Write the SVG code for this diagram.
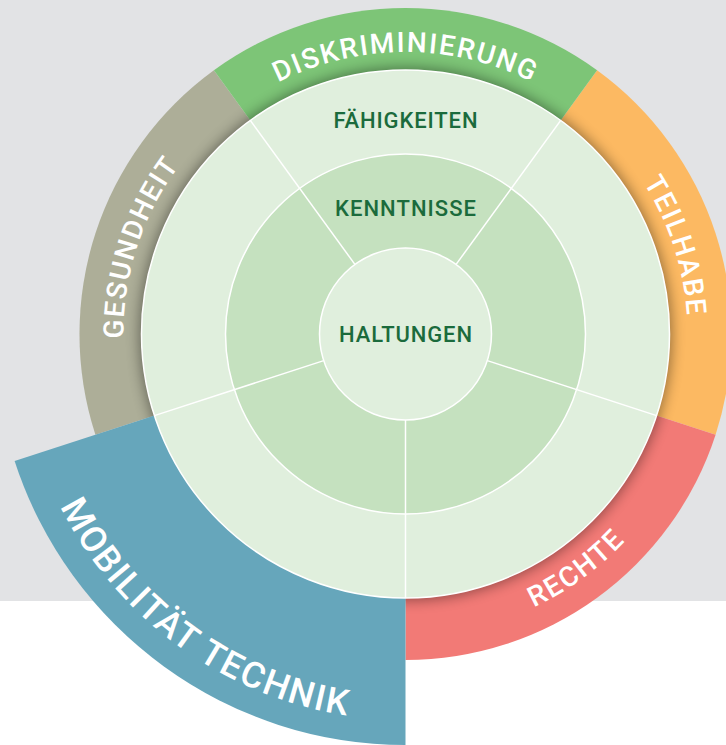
<svg xmlns="http://www.w3.org/2000/svg" width="726" height="745" viewBox="0 0 726 745">
<style>
.ring{font-family:Roboto,"Liberation Sans",sans-serif;font-size:28px;font-weight:500;fill:#fff;letter-spacing:1.8px}
.big{font-family:Roboto,"Liberation Sans",sans-serif;font-size:36px;font-weight:500;fill:#fff;letter-spacing:1.8px}
.lbl{font-family:Roboto,"Liberation Sans",sans-serif;font-size:22px;font-weight:500;fill:#1b6b3c;text-anchor:middle}
.line{stroke:#fff;stroke-width:1.5;fill:none}
</style>
<defs>
<filter id="sh" x="-20%" y="-20%" width="140%" height="140%"><feGaussianBlur stdDeviation="7"/></filter>
<path id="pDis" d="M161.3,193 A282,282 0 0 1 649.7,193"/>
<path id="pTei" d="M464.1,58.2 A282,282 0 0 1 615.1,522.7"/>
<path id="pGes" d="M195.9,522.7 A282,282 0 0 1 346.9,58.2"/>
<path id="pRec" d="M282.7,609.9 A302,302 0 0 0 705.8,302.4"/>
<path id="pMob" d="M21.6,293.7 A386,386 0 0 0 562.5,686.6"/>
</defs>
<rect x="0" y="0" width="726" height="745" fill="#fff"/>
<rect x="0" y="0" width="726" height="601" fill="#e2e3e5"/>

<g id="teilhabe"><path d="M405.5,334 L597.1,70.3 A326,326 0 0 1 715.6,434.7 Z" fill="#fcb962"/></g>
<g id="rechte"><path d="M405.5,334 L715.6,434.7 A326,326 0 0 1 405.5,660 Z" fill="#f27a76"/></g>
<g id="gesundheit"><path d="M405.5,334 L95.4,434.7 A326,326 0 0 1 213.9,70.3 Z" fill="#adae98"/></g>
<g id="diskriminierung"><path d="M405.5,334 L213.9,70.3 A326,326 0 0 1 597.1,70.3 Z" fill="#7dc577"/></g>
<circle cx="405.5" cy="334" r="266" fill="#000" opacity="0.42" filter="url(#sh)"/>
<g id="mobilitaet"><path d="M405.5,334 L405.5,745 A411,411 0 0 1 14.6,461 Z" fill="#66a6bb"/></g>

<g id="faehigkeiten"><circle cx="405.5" cy="334" r="264" fill="#e0efdd" stroke="#fff" stroke-width="1.5"/></g>
<g id="kenntnisse"><circle cx="405.5" cy="334" r="180" fill="#c5e1bf" stroke="#fff" stroke-width="1.5"/></g>
<g id="haltungen"><circle cx="405.5" cy="334" r="86" fill="#e0efdd" stroke="#fff" stroke-width="1.5"/></g>

<g id="connectors">
<line class="line" x1="487.3" y1="360.6" x2="656.6" y2="415.6"/>
<line class="line" x1="405.5" y1="420" x2="405.5" y2="598"/>
<line class="line" x1="323.7" y1="360.6" x2="154.4" y2="415.6"/>
<line class="line" x1="354.9" y1="264.4" x2="250.3" y2="120.4"/>
<line class="line" x1="456.1" y1="264.4" x2="560.7" y2="120.4"/>
</g>

<g id="labels">
<text class="ring"><textPath href="#pDis" startOffset="50%" text-anchor="middle">DISKRIMINIERUNG</textPath></text>
<text class="ring"><textPath href="#pTei" startOffset="50%" text-anchor="middle">TEILHABE</textPath></text>
<text class="ring"><textPath href="#pGes" startOffset="50%" text-anchor="middle">GESUNDHEIT</textPath></text>
<text class="ring"><textPath href="#pRec" startOffset="50%" text-anchor="middle">RECHTE</textPath></text>
<text class="big"><textPath href="#pMob" startOffset="50%" text-anchor="middle">MOBILITÄT TECHNIK</textPath></text>
<text class="lbl" x="405.5" y="128" textLength="144" lengthAdjust="spacing">FÄHIGKEITEN</text>
<text class="lbl" x="405.5" y="215.5" textLength="141" lengthAdjust="spacing">KENNTNISSE</text>
<text class="lbl" x="405.5" y="341.5" textLength="133" lengthAdjust="spacing">HALTUNGEN</text>
</g>
</svg>
